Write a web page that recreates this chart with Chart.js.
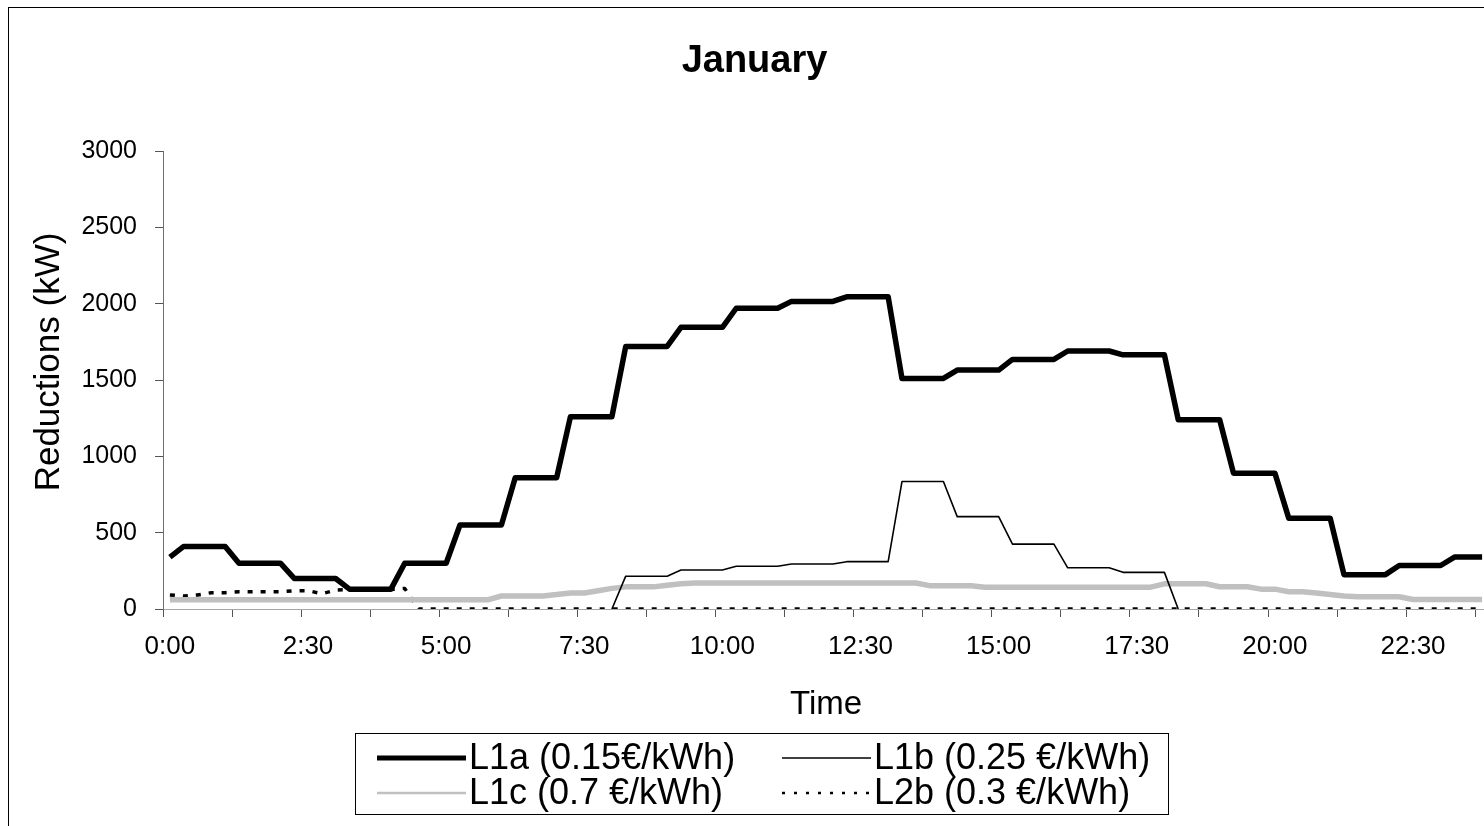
<!DOCTYPE html>
<html><head><meta charset="utf-8">
<script src="https://cdn.jsdelivr.net/npm/chart.js@4.4.1/dist/chart.umd.min.js"></script>
<style>
html,body{margin:0;padding:0;background:#fff;overflow:hidden;width:1484px;height:826px;}
#wrap{position:absolute;left:0;top:0;width:1500px;height:826px;}
#frame{position:absolute;left:8px;top:7px;width:1600px;height:900px;border-left:1px solid #000;border-top:1px solid #000;pointer-events:none;}
</style></head><body>
<div id="wrap"><canvas id="c" width="1500" height="826"></canvas></div>
<div id="frame"></div>
<script>
const chartTitle = 'January';
const xTitle = 'Time';
const yTitle = 'Reductions (kW)';

const timeLabels = ["0:00","0:15","0:30","0:45","1:00","1:15","1:30","1:45","2:00","2:15","2:30","2:45","3:00","3:15","3:30","3:45","4:00","4:15","4:30","4:45","5:00","5:15","5:30","5:45","6:00","6:15","6:30","6:45","7:00","7:15","7:30","7:45","8:00","8:15","8:30","8:45","9:00","9:15","9:30","9:45","10:00","10:15","10:30","10:45","11:00","11:15","11:30","11:45","12:00","12:15","12:30","12:45","13:00","13:15","13:30","13:45","14:00","14:15","14:30","14:45","15:00","15:15","15:30","15:45","16:00","16:15","16:30","16:45","17:00","17:15","17:30","17:45","18:00","18:15","18:30","18:45","19:00","19:15","19:30","19:45","20:00","20:15","20:30","20:45","21:00","21:15","21:30","21:45","22:00","22:15","22:30","22:45","23:00","23:15","23:30","23:45"];

const seriesNames = ['L1a (0.15€/kWh)', 'L1b (0.25 €/kWh)', 'L1c (0.7 €/kWh)', 'L2b (0.3 €/kWh)'];

const l1a = [340,
 410,410,410,410, 300,300,300,300, 200,200,200,200, 130,130,130,130,
 300,300,300,300, 550,550,550,550, 860,860,860,860, 1260,1260,1260,1260,
 1720,1720,1720,1720, 1845,1845,1845,1845, 1970,1970,1970,1970, 2015,2015,2015,2015,
 2045,2045,2045,2045, 1510,1510,1510,1510, 1565,1565,1565,1565, 1635,1635,1635,1635,
 1690,1690,1690,1690, 1665,1665,1665,1665, 1240,1240,1240,1240, 890,890,890,890,
 595,595,595,595, 225,225,225,225, 285,285,285,285, 340,340,340];

const l1b = [null,null,null,null,null,null,null,null,null,null,null,null,null,null,null,null,
 null,null,null,null,null,null,null,null,null,null,null,null,null,null,null,null,
 0,
 215,215,215,215, 255,255,255,255, 280,280,280,280, 295,295,295,295, 310,310,310,310,
 835,835,835,835, 605,605,605,605, 425,425,425,425, 270,270,270,270, 240,240,240,240,
 0,
 null,null,null,null,null,null,null,null,null,null,null,
 null,null,null,null,null,null,null,null,null,null,null];

const l1c = [60,60,60,60,60,60,60,60,60,60,60,60,60,60,60,60,60,60,60,60,60,60,60,60,
 85,85,85,85, 95, 105,105, 120, 135, 145,145,145, 155, 165,
 170,170,170,170,170,170,170,170,170,170,170,170,170,170,170,170,170,
 153,153,153,153,
 143,143,143,143,143,143,143,143,143,143,143,143,143,
 165,165,165,165, 146,146,146, 130,130, 113,113, 105, 95, 85,
 80,80,80,80, 62,62,62,62,62,62];

const l2b = [92,85,92,107,107,113,113,113,113,120,120,100,124,127,127,127,127,135,
 0,0,0,0,0,0,0,0,0,0,0,0,0,
 0,0,0,0,0,0,0,0,0,0,0,0,0,
 0,0,0,0,0,0,0,0,0,0,0,0,0,
 0,0,0,0,0,0,0,0,0,0,0,0,0,
 0,0,0,0,0,0,0,0,0,0,0,0,0,
 0,0,0,0,0,0,0,0,0,0,0,0,0];

const yTicks = [0, 500, 1000, 1500, 2000, 2500, 3000];

const FONT = "'Liberation Sans', Arial, Helvetica, sans-serif";

const yTitlePlugin = {
  id: 'yTitle',
  afterDraw(chart) {
    const ctx = chart.ctx;
    ctx.save();
    ctx.translate(49, 362);
    ctx.rotate(-Math.PI / 2);
    ctx.font = '35px ' + FONT;
    ctx.fillStyle = '#000';
    ctx.textAlign = 'center';
    ctx.textBaseline = 'middle';
    ctx.fillText(yTitle, 0, 0);
    ctx.restore();
  }
};

const legendPlugin = {
  id: 'boxLegend',
  afterDraw(chart) {
    const ctx = chart.ctx;
    ctx.save();
    ctx.strokeStyle = '#000';
    ctx.lineWidth = 1;
    ctx.strokeRect(355.5, 733.5, 813, 81);
    const cols = [377, 782];
    const rows = [758, 793];
    const sampleLen = 89;
    chart.data.datasets.forEach((ds, i) => {
      const x = cols[i % 2], y = rows[Math.floor(i / 2)];
      ctx.beginPath();
      ctx.setLineDash(ds.legendDash || ds.borderDash || []);
      ctx.lineWidth = ds.legendWidth || ds.borderWidth;
      ctx.strokeStyle = ds.borderColor;
      ctx.lineCap = 'butt';
      ctx.moveTo(x, y);
      ctx.lineTo(x + sampleLen, y);
      ctx.stroke();
      ctx.setLineDash([]);
      ctx.font = '36px ' + FONT;
      ctx.fillStyle = '#000';
      ctx.textAlign = 'left';
      ctx.textBaseline = 'middle';
      ctx.fillText(ds.label, x + sampleLen + 3, y + 1);
    });
    ctx.restore();
  }
};

new Chart(document.getElementById('c'), {
  type: 'line',
  data: {
    labels: timeLabels,
    datasets: [
      { label: seriesNames[0], data: l1a, borderColor: '#000000', borderWidth: 5.5, legendWidth: 5 },
      { label: seriesNames[1], data: l1b, borderColor: '#000000', borderWidth: 1.6, legendWidth: 1.6 },
      { label: seriesNames[2], data: l1c, borderColor: '#c0c0c0', borderWidth: 5.5, legendWidth: 2.5 },
      { label: seriesNames[3], data: l2b, borderColor: '#000000', borderWidth: 3.5, borderDash: [5, 8], legendWidth: 2.5, legendDash: [3, 9] }
    ]
  },
  options: {
    responsive: false,
    animation: false,
    devicePixelRatio: 1,
    layout: { padding: { left: 20, top: 0, right: 11, bottom: 97 } },
    elements: {
      point: { radius: 0, hoverRadius: 0 },
      line: { tension: 0, borderJoinStyle: 'round', borderCapStyle: 'butt', fill: false }
    },
    plugins: {
      legend: { display: false },
      tooltip: { enabled: false },
      title: {
        display: true, text: chartTitle, color: '#000',
        font: { family: FONT, size: 38, weight: 'bold' },
        padding: { top: 39, bottom: 66.4 }
      }
    },
    scales: {
      x: {
        type: 'category',
        offset: true,
        grid: {
          offset: true, drawOnChartArea: false, drawTicks: true, tickLength: 8, lineWidth: 1,
          color: c => (c.index % 5 === 0 ? '#555555' : 'rgba(0,0,0,0)')
        },
        border: { display: true, color: '#a6a6a6', width: 1 },
        ticks: {
          autoSkip: false, maxRotation: 0, minRotation: 0, padding: 14, color: '#000',
          font: { family: FONT, size: 26 },
          callback: (v, i) => (i % 10 === 0 ? timeLabels[i] : '')
        },
        title: {
          display: true, text: xTitle, color: '#000',
          font: { family: FONT, size: 33 },
          padding: { top: 0, bottom: 4 }
        },
        afterFit: s => { s.height = 120; }
      },
      y: {
        min: yTicks[0], max: yTicks[yTicks.length - 1],
        ticks: {
          stepSize: yTicks[1] - yTicks[0], padding: 18, color: '#000',
          font: { family: FONT, size: 25 },
          callback: v => String(v)
        },
        grid: { drawOnChartArea: false, drawTicks: true, tickLength: 8, color: '#555555' },
        border: { display: true, color: '#707070', width: 1 },
        afterFit: s => { s.width = 143; }
      }
    }
  },
  plugins: [yTitlePlugin, legendPlugin]
});
</script>
</body></html>
